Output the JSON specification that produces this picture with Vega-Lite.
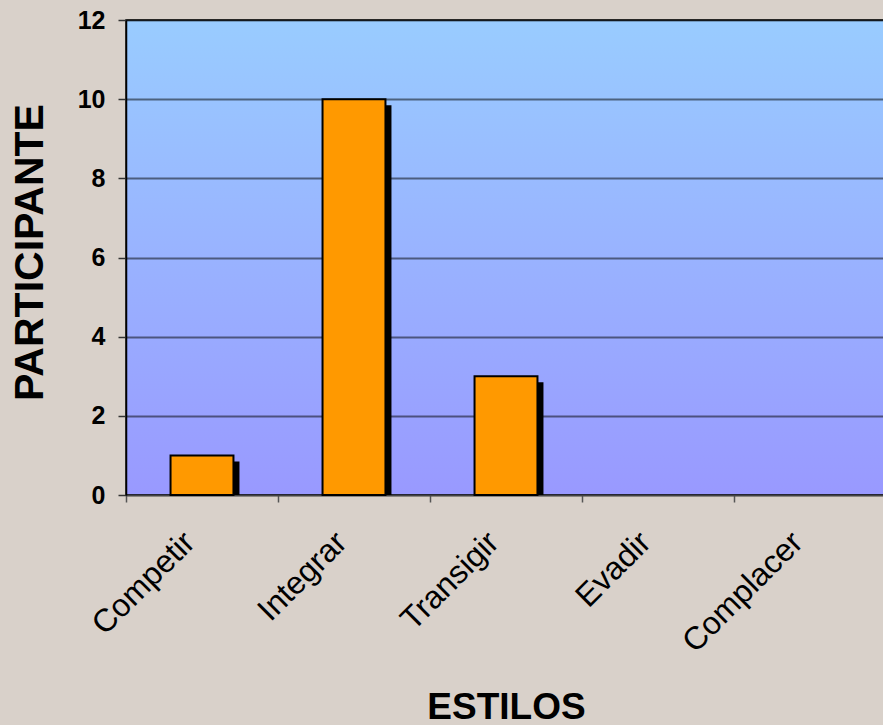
{
  "$schema": "https://vega.github.io/schema/vega-lite/v6.json",
  "autosize": "none",
  "padding": {"left": 126, "top": 20, "right": 0, "bottom": 230},
  "width": 760,
  "height": 475,
  "background": "#D9D1CA",
  "data": {"values": [
    {"estilo": "Competir", "participantes": 1},
    {"estilo": "Integrar", "participantes": 10},
    {"estilo": "Transigir", "participantes": 3},
    {"estilo": "Evadir", "participantes": 0},
    {"estilo": "Complacer", "participantes": 0}
  ]},
  "encoding": {
    "x": {"field": "estilo", "type": "nominal", "sort": null,
      "scale": {"paddingInner": 0, "paddingOuter": 0},
      "axis": {
        "title": "ESTILOS", "titleFont": "Liberation Sans", "titleFontSize": 37, "titleFontWeight": "bold", "titleColor": "#000",
        "titleX": 380, "titleY": 223, "titleBaseline": "alphabetic", "titleAnchor": null, "titleAlign": "center",
        "labelAngle": -45, "labelAlign": "right", "labelBaseline": "middle", "labelFont": "Liberation Sans", "labelFontSize": 32, "labelColor": "#000",
        "labelPadding": 35, "labelOffset": -13,
        "tickBand": "extent", "tickSize": 7, "tickColor": "#555", "tickWidth": 1.5,
        "domainColor": "#444", "domainWidth": 1.5, "grid": false
      }
    },
    "y": {"field": "participantes", "type": "quantitative",
      "scale": {"domain": [0, 12], "nice": false},
      "axis": {
        "title": "PARTICIPANTE", "titleFont": "Liberation Sans", "titleFontSize": 41, "titleFontWeight": "bold", "titleColor": "#000",
        "titleAngle": -90, "titleX": -96, "titleY": 232, "titleAlign": "center", "titleBaseline": "middle",
        "values": [0, 2, 4, 6, 8, 10, 12],
        "labelFont": "Liberation Sans", "labelFontSize": 25, "labelFontWeight": "bold", "labelColor": "#000", "labelPadding": 13,
        "tickSize": 8, "tickColor": "#333", "tickWidth": 1.5,
        "domainColor": "#000", "domainWidth": 1.5,
        "grid": true, "gridColor": "#000", "gridOpacity": 0.5, "gridWidth": 2
      }
    }
  },
  "layer": [
    {
      "mark": {"type": "bar", "color": "#000", "xOffset": 6, "yOffset": 6, "clip": true, "width": {"band": 0.414}}
    },
    {
      "mark": {"type": "bar", "color": "#FF9900", "stroke": "#000", "width": {"band": 0.414}},
      "encoding": {
        "strokeWidth": {"condition": {"test": "datum.participantes > 0", "value": 2}, "value": 0}
      }
    }
  ],
  "config": {
    "view": {
      "stroke": "#000",
      "strokeWidth": 1.5,
      "fill": {"gradient": "linear", "x1": 0, "y1": 0, "x2": 0, "y2": 1,
        "stops": [{"offset": 0, "color": "#99CCFF"}, {"offset": 1, "color": "#9999FF"}]}
    }
  }
}
